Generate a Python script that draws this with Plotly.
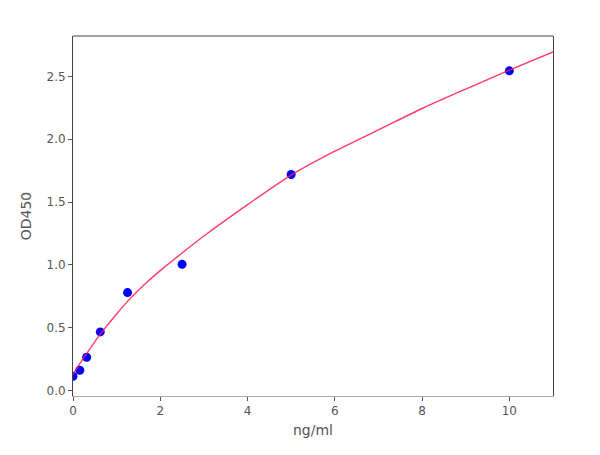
import plotly.graph_objects as go

# standard points
conc = [0, 0.156, 0.313, 0.625, 1.25, 2.5, 5, 10]
od450 = [0.114, 0.162, 0.265, 0.467, 0.78, 1.005, 1.72, 2.545]

# fitted curve
fit_x = [0, 0.156, 0.313, 0.625, 1, 1.25, 1.75, 2, 2.5, 3, 4, 5, 6, 7, 8, 9, 10, 11]
fit_y = [0.13, 0.215, 0.295, 0.45, 0.61, 0.71, 0.88, 0.955, 1.095, 1.23,
         1.48, 1.715, 1.905, 2.075, 2.245, 2.40, 2.55, 2.695]

x_ticks = [0, 2, 4, 6, 8, 10]
y_ticks = [0.0, 0.5, 1.0, 1.5, 2.0, 2.5]

fig = go.Figure()

fig.add_trace(go.Scatter(
    x=conc,
    y=od450,
    mode='markers',
    marker=dict(color='#0000ff', size=9),
    showlegend=False,
))

fig.add_trace(go.Scatter(
    x=fit_x,
    y=fit_y,
    mode='lines',
    line=dict(color='rgba(255,25,80,0.85)', width=1.4, shape='spline', smoothing=0.8),
    showlegend=False,
))

fig.add_shape(
    type='line', xref='paper', yref='paper',
    x0=0, x1=1, y0=1, y1=1,
    line=dict(color='#444444', width=1),
)

fig.update_layout(
    width=600,
    height=455,
    margin=dict(l=65, r=55, t=28, b=67),
    plot_bgcolor='white',
    paper_bgcolor='white',
    font=dict(family='DejaVu Sans', size=12, color='#555555'),
    xaxis=dict(
        title=dict(text='ng/ml', standoff=7),
        range=[0, 11],
        tickvals=x_ticks,
        ticks='outside',
        ticklen=4,
        tickcolor='#555555',
        showline=True,
        linecolor='#aaaaaa',
        linewidth=1,
        showgrid=False,
        zeroline=False,
    ),
    yaxis=dict(
        title=dict(text='OD450', standoff=11),
        range=[-0.043, 2.822],
        tickvals=y_ticks,
        tickformat='.1f',
        ticks='outside',
        ticklen=4,
        tickcolor='#555555',
        showline=True,
        mirror=True,
        linecolor='#444444',
        linewidth=1,
        showgrid=False,
        zeroline=False,
    ),
)

fig.write_html("out.html")
